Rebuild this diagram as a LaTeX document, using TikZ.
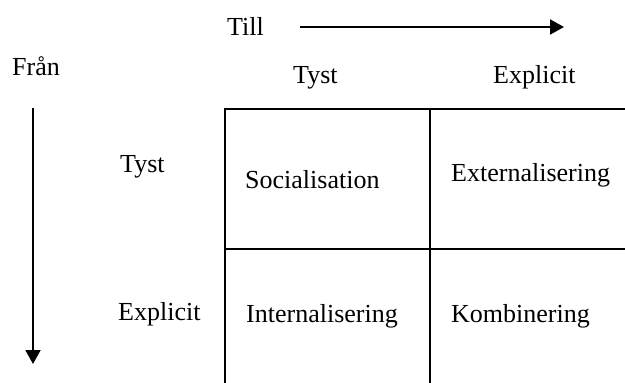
\documentclass[tikz,border=0pt]{standalone}
\usepackage{fontspec}
\setmainfont{Liberation Serif}
\usetikzlibrary{arrows.meta}
\begin{document}
\begin{tikzpicture}[x=1pt,y=-1pt,
  lbl/.style={anchor=base west,inner sep=0pt,font=\fontsize{26}{30}\selectfont},
  gridline/.style={line width=2pt},
  dirarrow/.style={line width=2pt,-{Triangle[length=14pt,width=15pt]}}]
\useasboundingbox[fill=white] (0,0) rectangle (625,383);
% axis labels
\node[lbl] (till) at (227,35) {Till};
\node[lbl] (fran) at (12,75) {Från};
\node[lbl] (colA) at (293,83) {Tyst};
\node[lbl] (colB) at (493,83) {Explicit};
\node[lbl] (rowA) at (120,172) {Tyst};
\node[lbl] (rowB) at (118,320) {Explicit};
% direction arrows
\coordinate (tillS) at (300,27);
\coordinate (tillE) at (564,27);
\coordinate (franS) at (33,108);
\coordinate (franE) at (33,364);
\draw[dirarrow] (tillS) -- (tillE);
\draw[dirarrow] (franS) -- (franE);
% matrix grid
\draw[gridline] (225,383) -- (225,109) -- (625,109);
\draw[gridline] (430,109) -- (430,383);
\draw[gridline] (225,249) -- (625,249);
% cell contents
\node[lbl] (soc) at (245,188) {Socialisation};
\node[lbl] (ext) at (451,181) {Externalisering};
\node[lbl] (int) at (246,322) {Internalisering};
\node[lbl] (kom) at (451,322) {Kombinering};
\end{tikzpicture}
\end{document}
